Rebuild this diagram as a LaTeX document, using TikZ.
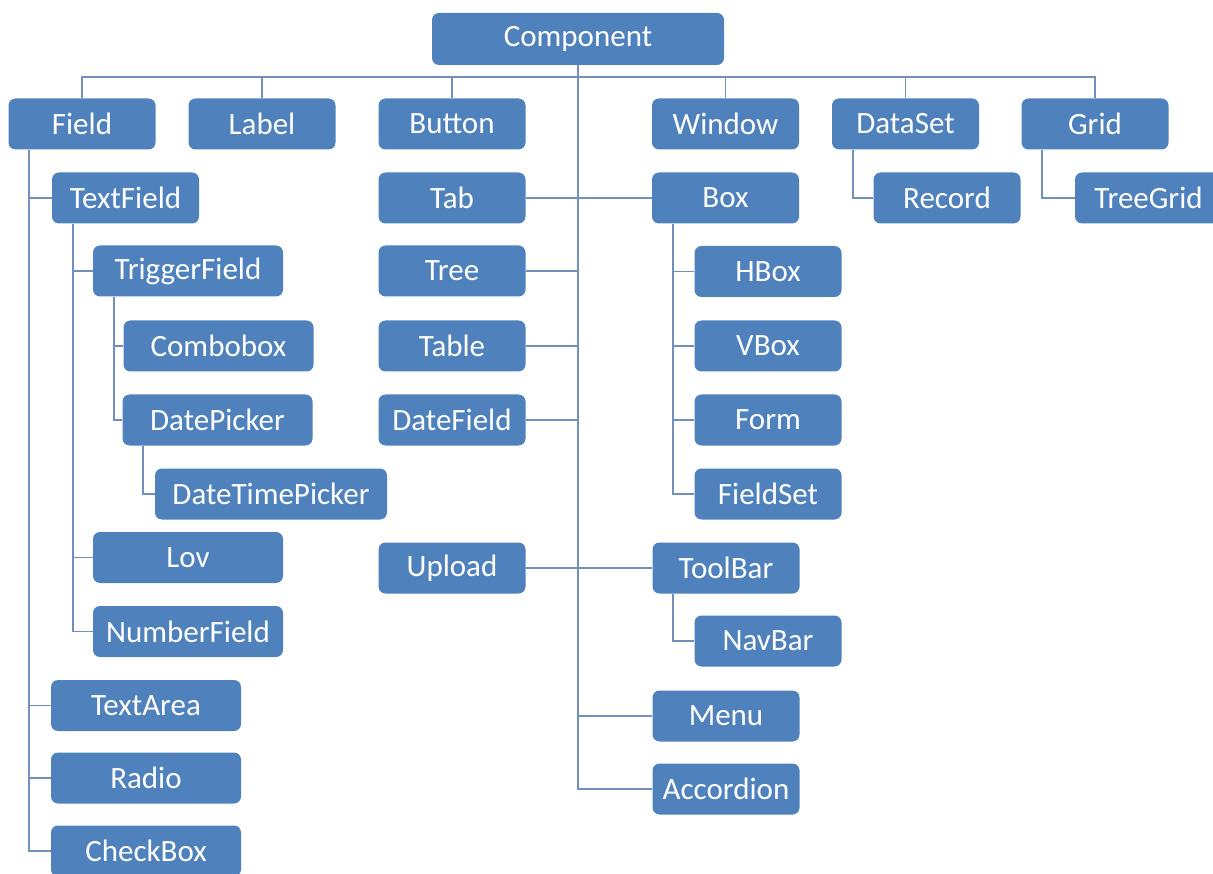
\documentclass[tikz,border=0pt]{standalone}
\usepackage{fontspec}
\setmainfont{Carlito}
\usepackage{tikz}
\usetikzlibrary{positioning}
\definecolor{boxblue}{HTML}{4F81BD}
\definecolor{lineblue}{HTML}{7290BB}

\begin{document}
\begin{tikzpicture}[x=1pt, y=-1pt]
  \tikzstyle{main}=[rectangle, rounded corners=7pt, fill=boxblue, text=white, minimum width=147pt, minimum height=51pt, inner sep=0pt, font=\fontsize{31}{37}\selectfont]
  \tikzstyle{wide}=[main, minimum width=190pt]
  \tikzstyle{connect}=[draw=lineblue, line width=1.7pt]
  \useasboundingbox (0,0) rectangle (1213,874);
    \node[main, minimum width=292pt, minimum height=52pt] (comp) at (578,39) {Component};
    \coordinate (bus) at (578,77);
    % top row
    \node[main] (field) at (82,124) {Field};
    \node[main] (label) at (262,124) {Label};
    \node[main] (button) at (452,124) {Button};
    \node[main] (window) at (725.5,124) {Window};
    \node[main] (dataset) at (905.5,124) {DataSet};
    \node[main] (grid) at (1095,124) {Grid};
    % field branch
    \node[main] (textfield) at (125.5,198) {TextField};
    \node[wide] (triggerfield) at (188,271) {TriggerField};
    \node[wide] (combobox) at (218.5,346) {Combobox};
    \node[wide] (datepicker) at (217.5,420) {DatePicker};
    \node[main, minimum width=232pt] (datetimepicker) at (271,494) {DateTimePicker};
    \node[wide] (lov) at (188,557.5) {Lov};
    \node[wide] (numberfield) at (188,631.5) {NumberField};
    \node[wide] (textarea) at (146,705.5) {TextArea};
    \node[wide] (radio) at (146,778) {Radio};
    \node[wide] (checkbox) at (146,851) {CheckBox};
    % middle column
    \node[main] (tab) at (452,198) {Tab};
    \node[main] (tree) at (452,271) {Tree};
    \node[main] (table) at (452,346) {Table};
    \node[main] (datefield) at (452,420) {DateField};
    \node[main] (upload) at (452,568) {Upload};
    % right of the trunk
    \node[main] (box) at (725.5,198) {Box};
    \node[main] (hbox) at (768,271.5) {HBox};
    \node[main] (vbox) at (768,346) {VBox};
    \node[main] (form) at (768,420) {Form};
    \node[main] (fieldset) at (768,494) {FieldSet};
    \node[main] (toolbar) at (726,568) {ToolBar};
    \node[main] (navbar) at (768,641) {NavBar};
    \node[main] (menu) at (726,716) {Menu};
    \node[main] (accordion) at (726,789) {Accordion};
    \node[main] (record) at (947,198) {Record};
    \node[main] (treegrid) at (1148.5,198) {TreeGrid};
    % connectors
    \foreach \n in {field,label,button,window,dataset,grid}
      \draw[connect] (comp) -- (bus) -| (\n);
    \foreach \n in {tab,tree,table,datefield,upload,box,toolbar,menu,accordion}
      \draw[connect] (comp) |- (\n);
    \foreach \p/\c in {field/textfield, field/textarea, field/radio, field/checkbox,
                       textfield/triggerfield, textfield/lov, textfield/numberfield,
                       triggerfield/combobox, triggerfield/datepicker,
                       datepicker/datetimepicker,
                       box/hbox, box/vbox, box/form, box/fieldset,
                       toolbar/navbar, dataset/record, grid/treegrid}
      \draw[connect] ([xshift=21pt]\p.south west) |- (\c);
  \end{tikzpicture}
\end{document}
